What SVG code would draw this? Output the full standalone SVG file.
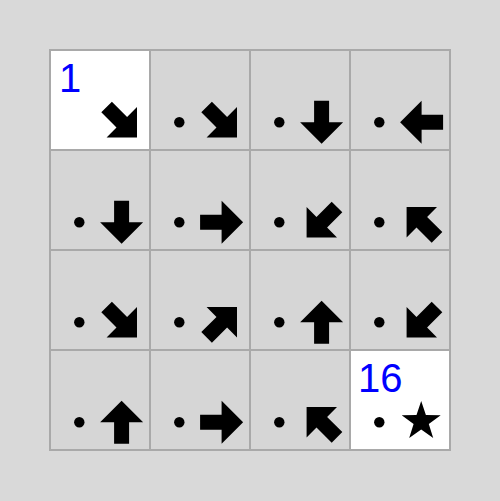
<svg xmlns="http://www.w3.org/2000/svg" width="500" height="501" viewBox="0 0 500 501">
<style>
.cell{fill:#d6d6d6;stroke:#a9a9a9;stroke-width:2}
.white{fill:#ffffff}
.dot{fill:#000}
.arr{fill:#000}
.num{font-family:"Liberation Sans",Arial,sans-serif;font-size:40px;fill:#0000ff}
</style>
<defs>
<polygon id="arrow" points="-21.5,-7.5 0,-7.5 0,-21.5 21.5,0 0,21.5 0,7.5 -21.5,7.5"/>
<polygon id="star" points="0,-20.5 4.7,-6.5 19.5,-6.3 7.6,2.5 12.0,16.6 0,8.1 -12.0,16.6 -7.6,2.5 -19.5,-6.3 -4.7,-6.5"/>
</defs>
<rect x="0" y="0" width="500" height="501" fill="#d9d9d9"/>
<g id="c1"><rect class="cell white" x="50" y="50" width="100" height="100"/><text class="num" x="59" y="92">1</text><use class="arr" href="#arrow" transform="translate(121.8,122.2) rotate(45)"/></g>
<g id="c2"><rect class="cell" x="150" y="50" width="100" height="100"/><circle class="dot" cx="179.3" cy="122.2" r="5.2"/><use class="arr" href="#arrow" transform="translate(221.8,122.2) rotate(45)"/></g>
<g id="c3"><rect class="cell" x="250" y="50" width="100" height="100"/><circle class="dot" cx="279.3" cy="122.2" r="5.2"/><use class="arr" href="#arrow" transform="translate(321.6,122.2) rotate(90)"/></g>
<g id="c4"><rect class="cell" x="350" y="50" width="100" height="100"/><circle class="dot" cx="379.3" cy="122.2" r="5.2"/><use class="arr" href="#arrow" transform="translate(421.6,122.2) rotate(180)"/></g>
<g id="c5"><rect class="cell" x="50" y="150" width="100" height="100"/><circle class="dot" cx="79.3" cy="222.2" r="5.2"/><use class="arr" href="#arrow" transform="translate(121.6,222.2) rotate(90)"/></g>
<g id="c6"><rect class="cell" x="150" y="150" width="100" height="100"/><circle class="dot" cx="179.3" cy="222.2" r="5.2"/><use class="arr" href="#arrow" transform="translate(221.6,222.2)"/></g>
<g id="c7"><rect class="cell" x="250" y="150" width="100" height="100"/><circle class="dot" cx="279.3" cy="222.2" r="5.2"/><use class="arr" href="#arrow" transform="translate(321.8,222.2) rotate(135)"/></g>
<g id="c8"><rect class="cell" x="350" y="150" width="100" height="100"/><circle class="dot" cx="379.3" cy="222.2" r="5.2"/><use class="arr" href="#arrow" transform="translate(421.8,222.2) rotate(225)"/></g>
<g id="c9"><rect class="cell" x="50" y="250" width="100" height="100"/><circle class="dot" cx="79.3" cy="322.2" r="5.2"/><use class="arr" href="#arrow" transform="translate(121.8,322.2) rotate(45)"/></g>
<g id="c10"><rect class="cell" x="150" y="250" width="100" height="100"/><circle class="dot" cx="179.3" cy="322.2" r="5.2"/><use class="arr" href="#arrow" transform="translate(221.8,322.2) rotate(-45)"/></g>
<g id="c11"><rect class="cell" x="250" y="250" width="100" height="100"/><circle class="dot" cx="279.3" cy="322.2" r="5.2"/><use class="arr" href="#arrow" transform="translate(321.6,322.2) rotate(-90)"/></g>
<g id="c12"><rect class="cell" x="350" y="250" width="100" height="100"/><circle class="dot" cx="379.3" cy="322.2" r="5.2"/><use class="arr" href="#arrow" transform="translate(421.8,322.2) rotate(135)"/></g>
<g id="c13"><rect class="cell" x="50" y="350" width="100" height="100"/><circle class="dot" cx="79.3" cy="422.2" r="5.2"/><use class="arr" href="#arrow" transform="translate(121.6,422.2) rotate(-90)"/></g>
<g id="c14"><rect class="cell" x="150" y="350" width="100" height="100"/><circle class="dot" cx="179.3" cy="422.2" r="5.2"/><use class="arr" href="#arrow" transform="translate(221.6,422.2)"/></g>
<g id="c15"><rect class="cell" x="250" y="350" width="100" height="100"/><circle class="dot" cx="279.3" cy="422.2" r="5.2"/><use class="arr" href="#arrow" transform="translate(321.8,422.2) rotate(225)"/></g>
<g id="c16"><rect class="cell white" x="350" y="350" width="100" height="100"/><text class="num" x="358" y="392">16</text><circle class="dot" cx="379.3" cy="422.2" r="5.2"/><use class="arr" href="#star" transform="translate(421.2,421.5)"/></g>
</svg>
